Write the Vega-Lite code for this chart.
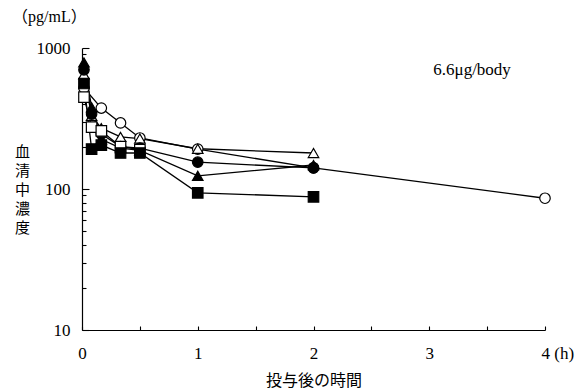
{
  "$schema": "https://vega.github.io/schema/vega-lite/v6.json",
  "width": 463,
  "height": 282,
  "autosize": "none",
  "padding": {"left": 82, "top": 48, "right": 32, "bottom": 60},
  "background": "white",
  "config": {
    "view": {"stroke": null},
    "font": "Liberation Serif",
    "axis": {"grid": false, "domainColor": "black", "tickColor": "black", "labelColor": "black", "titleColor": "black", "domainWidth": 1.2, "tickWidth": 1.1}
  },
  "title": {
    "text": "（pg/mL）",
    "anchor": "start",
    "frame": "group",
    "orient": "top",
    "dx": -70,
    "offset": 14,
    "font": "Liberation Serif, Noto Sans CJK JP",
    "fontSize": 16,
    "fontWeight": "normal",
    "color": "black"
  },
  "data": {
    "values": [
      {"s": "oc", "t": 0.017, "v": 520},
      {"s": "oc", "t": 0.167, "v": 375},
      {"s": "oc", "t": 0.333, "v": 294},
      {"s": "oc", "t": 0.5, "v": 230},
      {"s": "oc", "t": 1, "v": 192},
      {"s": "oc", "t": 2, "v": 141},
      {"s": "oc", "t": 4, "v": 86},
      {"s": "ot", "t": 0.017, "v": 650},
      {"s": "ot", "t": 0.083, "v": 330},
      {"s": "ot", "t": 0.167, "v": 270},
      {"s": "ot", "t": 0.333, "v": 234},
      {"s": "ot", "t": 0.5, "v": 228},
      {"s": "ot", "t": 1, "v": 193},
      {"s": "ot", "t": 2, "v": 180},
      {"s": "fc", "t": 0.017, "v": 700},
      {"s": "fc", "t": 0.083, "v": 340},
      {"s": "fc", "t": 0.167, "v": 245},
      {"s": "fc", "t": 0.333, "v": 200},
      {"s": "fc", "t": 0.5, "v": 195},
      {"s": "fc", "t": 1, "v": 155},
      {"s": "fc", "t": 2, "v": 141},
      {"s": "ft", "t": 0.017, "v": 790},
      {"s": "ft", "t": 0.083, "v": 380},
      {"s": "ft", "t": 0.167, "v": 225},
      {"s": "ft", "t": 0.333, "v": 195},
      {"s": "ft", "t": 0.5, "v": 188},
      {"s": "ft", "t": 1, "v": 124},
      {"s": "ft", "t": 2, "v": 148},
      {"s": "os", "t": 0.017, "v": 449},
      {"s": "os", "t": 0.083, "v": 275},
      {"s": "os", "t": 0.167, "v": 258},
      {"s": "os", "t": 0.333, "v": 200},
      {"s": "os", "t": 0.5, "v": 190},
      {"s": "fs", "t": 0.017, "v": 560},
      {"s": "fs", "t": 0.083, "v": 192},
      {"s": "fs", "t": 0.167, "v": 205},
      {"s": "fs", "t": 0.333, "v": 180},
      {"s": "fs", "t": 0.5, "v": 180},
      {"s": "fs", "t": 1, "v": 94},
      {"s": "fs", "t": 2, "v": 88}
    ]
  },
  "encoding": {
    "x": {
      "field": "t",
      "type": "quantitative",
      "scale": {"domain": [0, 4], "nice": false, "zero": false},
      "axis": {
        "values": [0, 0.5, 1, 1.5, 2, 2.5, 3, 3.5, 4],
        "labelExpr": "datum.value == 4 ? '4 (h)' : (datum.value % 1 == 0 ? format(datum.value, 'd') : '')",
        "labelAlign": {"condition": {"test": "datum.value == 4", "value": "left"}, "value": "center"},
        "labelOffset": {"condition": {"test": "datum.value == 4", "value": -4}, "value": 0},
        "tickSize": -4,
        "labelPadding": 19,
        "labelFontSize": 17,
        "labelFont": "Liberation Serif",
        "labelFlush": false,
        "labelOverlap": false,
        "title": "投与後の時間",
        "titleFont": "Noto Sans CJK JP",
        "titleFontSize": 16,
        "titleFontWeight": "normal",
        "titlePadding": 11
      }
    },
    "y": {
      "field": "v",
      "type": "quantitative",
      "scale": {"type": "log", "domain": [10, 1000], "nice": false},
      "axis": {
        "values": [10, 20, 30, 40, 50, 60, 70, 80, 90, 100, 200, 300, 400, 500, 600, 700, 800, 900, 1000],
        "labelExpr": "(datum.value == 10 || datum.value == 100 || datum.value == 1000) ? format(datum.value, 'd') : ''",
        "tickSize": {"condition": {"test": "datum.value == 10 || datum.value == 100 || datum.value == 1000", "value": -7}, "value": -4},
        "labelPadding": 19,
        "labelFontSize": 17,
        "labelFont": "Liberation Serif",
        "labelOverlap": false,
        "labelFlush": false,
        "title": ["血", "清", "中", "濃", "度"],
        "titleFont": "Noto Sans CJK JP",
        "titleFontSize": 15,
        "titleFontWeight": "normal",
        "titleAngle": 0,
        "titleAlign": "center",
        "titleBaseline": "top",
        "titleLineHeight": 19,
        "titleX": -60,
        "titleY": 96
      }
    }
  },
  "layer": [
    {
      "mark": {"type": "line", "color": "black", "strokeWidth": 1.3},
      "encoding": {"detail": {"field": "s"}}
    },
    {
      "mark": {"type": "point", "filled": true, "size": 110, "stroke": "black", "strokeWidth": 1.2, "opacity": 1},
      "encoding": {
        "shape": {
          "field": "s",
          "scale": {"domain": ["oc", "ot", "fc", "ft", "os", "fs"], "range": ["circle", "triangle-up", "circle", "triangle-up", "square", "square"]},
          "legend": null
        },
        "fill": {
          "field": "s",
          "scale": {"domain": ["oc", "ot", "fc", "ft", "os", "fs"], "range": ["white", "white", "black", "black", "white", "black"]},
          "legend": null
        }
      }
    },
    {
      "data": {"values": [{"t": 3.37, "v": 698, "label": "6.6μg/body"}]},
      "mark": {"type": "text", "font": "Liberation Serif", "fontSize": 17, "color": "black", "align": "center", "baseline": "middle"},
      "encoding": {"text": {"field": "label"}}
    }
  ]
}
